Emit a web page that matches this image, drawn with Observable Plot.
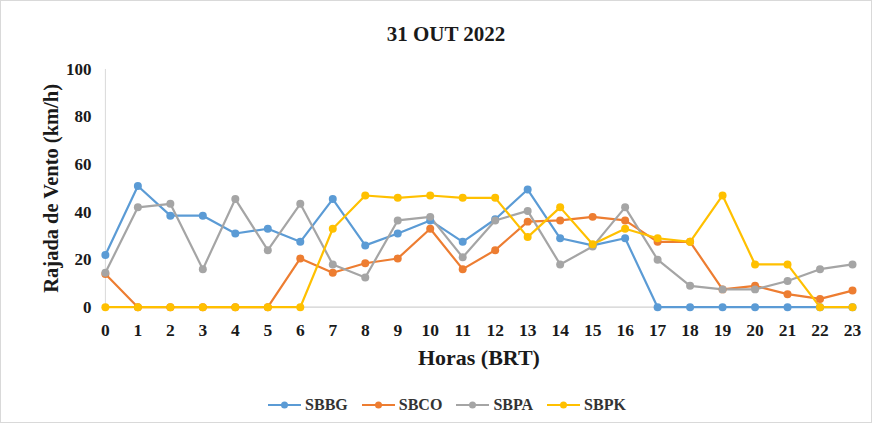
<!DOCTYPE html>
<html>
<head>
<meta charset="utf-8">
<script src="https://cdn.jsdelivr.net/npm/d3@7"></script>
<script src="https://cdn.jsdelivr.net/npm/@observablehq/plot@0.6"></script>
<style>
  body { margin: 0; background: #fff; }
  #wrap { position: relative; width: 870px; height: 421px; border: 1px solid #d9d9d9; background: #fff; font-family: "Liberation Serif", "Times New Roman", serif; overflow: hidden; }
  #title { position: absolute; top: 21px; left: 10px; width: 870px; text-align: center; font-weight: bold; font-size: 21px; color: #1a1a1a; }
  #chart { position: absolute; top: 54px; left: -1px; }
  #legend { position: absolute; top: 395px; left: 0; width: 892px; display: flex; justify-content: center; gap: 14px; font-weight: bold; font-size: 16px; color: #333; }
  .item { display: flex; align-items: center; gap: 4px; }
</style>
</head>
<body>
<div id="wrap">
  <div id="title">31 OUT 2022</div>
  <div id="chart"></div>
  <div id="legend"></div>
</div>
<script>
const hours = d3.range(0, 24);
const seriesNames = ["SBBG", "SBCO", "SBPA", "SBPK"];
const seriesColors = ["#5b9bd5", "#ed7d31", "#a5a5a5", "#ffc000"];
const SBBG = [22, 51, 38.5, 38.5, 31, 33, 27.5, 45.5, 26, 31, 36.5, 27.5, 37, 49.5, 29, 26, 29, 0, 0, 0, 0, 0, 0, 0];
const SBCO = [14, 0, 0, 0, 0, 0, 20.5, 14.5, 18.5, 20.5, 33, 16, 24, 36, 36.5, 38, 36.5, 27.5, 27.5, 7.5, 9, 5.5, 3.5, 7];
const SBPA = [14.5, 42, 43.5, 16, 45.5, 24, 43.5, 18, 12.5, 36.5, 38, 21, 36.5, 40.5, 18, 25.5, 42, 20, 9, 7.5, 7.5, 11, 16, 18];
const SBPK = [0, 0, 0, 0, 0, 0, 0, 33, 47, 46, 47, 46, 46, 29.5, 42, 26.5, 33, 29, 27.5, 47, 18, 18, 0, 0];
const yTicks = [0, 20, 40, 60, 80, 100];

const allValues = [SBBG, SBCO, SBPA, SBPK];
const data = [];
seriesNames.forEach((name, i) => {
  hours.forEach((h, j) => data.push({hour: h, value: allValues[i][j], series: name}));
});

const chart = Plot.plot({
  width: 872,
  height: 322,
  marginLeft: 105,
  marginRight: 19,
  marginTop: 14,
  marginBottom: 70,
  style: { fontFamily: "Liberation Serif, Times New Roman, serif", fontWeight: "bold", fontSize: "17px", color: "#1a1a1a", background: "transparent" },
  x: { domain: [0, 23] },
  y: { domain: [0, 100] },
  color: { domain: seriesNames, range: seriesColors },
  marks: [
    Plot.ruleX([0], { stroke: "#d9d9d9", strokeWidth: 1 }),
    Plot.ruleY([0], { stroke: "#d0d0d0", strokeWidth: 1.2 }),
    Plot.line(data, { x: "hour", y: "value", z: "series", stroke: "series", strokeWidth: 2.2 }),
    Plot.dot(data, { x: "hour", y: "value", fill: "series", r: 4 }),
    Plot.axisX({ ticks: hours, tickFormat: d => String(d), tickSize: 0, tickPadding: 16, fontSize: 17.5, label: "Horas (BRT)", labelAnchor: "center", labelOffset: 58, labelArrow: "none" }),
    Plot.axisY({ ticks: yTicks, tickSize: 0, tickPadding: 14, fontSize: 17, label: "Rajada de Vento (km/h)", labelAnchor: "center", labelOffset: 62, labelArrow: "none" })
  ]
});
chart.querySelector("g[aria-label='x-axis label'] text")?.setAttribute("font-size", "22");
chart.querySelector("g[aria-label='y-axis label'] text")?.setAttribute("font-size", "20.5");
document.getElementById("chart").appendChild(chart);

const legend = document.getElementById("legend");
seriesNames.forEach((name, i) => {
  const item = document.createElement("div");
  item.className = "item";
  item.innerHTML = `<svg width="33" height="10"><line x1="0" y1="5" x2="33" y2="5" stroke="${seriesColors[i]}" stroke-width="2.2"/><circle cx="16.5" cy="5" r="3.5" fill="${seriesColors[i]}"/></svg><span>${name}</span>`;
  legend.appendChild(item);
});
</script>
</body>
</html>
